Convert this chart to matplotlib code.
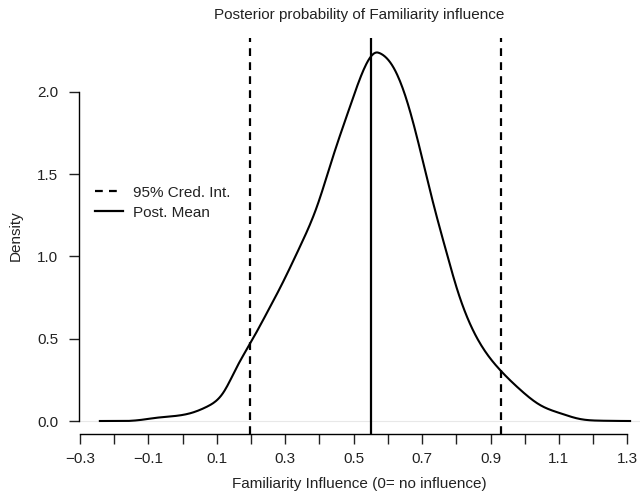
import matplotlib
matplotlib.use('Agg')
import matplotlib.pyplot as plt
from matplotlib.lines import Line2D
import numpy as np

plt.rcParams['font.family'] = ['Liberation Sans', 'DejaVu Sans']

# Posterior density
x_vals = [-0.242, -0.125, -0.075, 0.022, 0.071, 0.118, 0.159, 0.197, 0.256, 0.285,
          0.343, 0.392, 0.44, 0.489, 0.528, 0.567, 0.577, 0.616, 0.655, 0.694,
          0.733, 0.772, 0.801, 0.87, 0.928, 0.987, 1.045, 1.104, 1.162, 1.22, 1.308]
dens = [0.0, 0.006, 0.02, 0.047, 0.087, 0.17, 0.33, 0.47, 0.695, 0.81,
        1.06, 1.30, 1.61, 1.91, 2.13, 2.24, 2.235, 2.15, 1.95, 1.65,
        1.32, 1.02, 0.81, 0.47, 0.31, 0.19, 0.097, 0.047, 0.012, 0.002, 0.0]

post_mean = 0.551
cred_int = [0.197, 0.931]

x_ticks = np.round(np.arange(-0.3, 1.31, 0.1), 1)
y_ticks = [0.0, 0.5, 1.0, 1.5, 2.0]


# natural cubic spline through the read points (no scipy needed)
def spline(x, y, xn):
    x = np.asarray(x, float); y = np.asarray(y, float)
    n = len(x); h = np.diff(x)
    A = np.zeros((n, n)); r = np.zeros(n)
    A[0, 0] = A[-1, -1] = 1
    for i in range(1, n - 1):
        A[i, i - 1] = h[i - 1]; A[i, i] = 2 * (h[i - 1] + h[i]); A[i, i + 1] = h[i]
        r[i] = 6 * ((y[i + 1] - y[i]) / h[i] - (y[i] - y[i - 1]) / h[i - 1])
    M = np.linalg.solve(A, r)
    idx = np.clip(np.searchsorted(x, xn) - 1, 0, n - 2)
    a = x[idx + 1] - xn; b = xn - x[idx]; hh = h[idx]
    return (M[idx] * a**3 + M[idx + 1] * b**3) / (6 * hh) \
        + (y[idx] / hh - M[idx] * hh / 6) * a + (y[idx + 1] / hh - M[idx + 1] * hh / 6) * b


xs = np.linspace(x_vals[0], x_vals[-1], 600)
ys = np.clip(spline(x_vals, dens, xs), 0, None)

fig = plt.figure(figsize=(6.43, 4.96), dpi=100)
ax = fig.add_axes([79/643, (496-434)/496, (640-79)/643, (434-38)/496])

ax.axhline(0, color='#e8e8e8', lw=0.8, zorder=0)
ax.plot(xs, ys, color='black', lw=1.5)
for c in cred_int:
    ax.axvline(c, color='black', lw=1.6, dashes=(3.5, 2.8))
ax.axvline(post_mean, color='black', lw=1.6)

ax.set_xlim(-0.303, 1.337)
ax.set_ylim(-0.079, 2.328)

for s in ['top', 'right']:
    ax.spines[s].set_visible(False)
ax.spines['left'].set_bounds(0, 2.0)
ax.spines['bottom'].set_bounds(-0.3, 1.3)
ax.spines['left'].set_linewidth(1.0)
ax.spines['bottom'].set_linewidth(1.0)

ax.set_xticks(x_ticks)
ax.set_xticklabels([f'{t:.1f}'.replace('-', '\u2212') if i % 2 == 0 else '' for i, t in enumerate(x_ticks)])
ax.set_yticks(y_ticks)
ax.set_yticklabels([f'{t:.1f}' for t in y_ticks])
ax.tick_params(length=7, width=1.0, labelsize=11, colors='#222222')
ax.tick_params(axis='x', pad=6)
ax.tick_params(axis='y', pad=8)

ax.set_title('Posterior probability of Familiarity influence', fontsize=11, color='#222222', pad=14)
ax.set_xlabel('Familiarity Influence (0= no influence)', fontsize=11, color='#222222', labelpad=8)
ax.set_ylabel('Density', fontsize=11, color='#222222', labelpad=10)

handles = [Line2D([], [], color='black', lw=1.6, dashes=(3.5, 2.8)),
           Line2D([], [], color='black', lw=1.6)]
ax.legend(handles, ['95% Cred. Int.', 'Post. Mean'], loc='upper left',
          bbox_to_anchor=(0.004, 0.662), frameon=False, fontsize=11,
          handlelength=1.85, handletextpad=0.65, labelspacing=0.4, labelcolor='#222222')

fig.savefig('out.png', dpi=100)
